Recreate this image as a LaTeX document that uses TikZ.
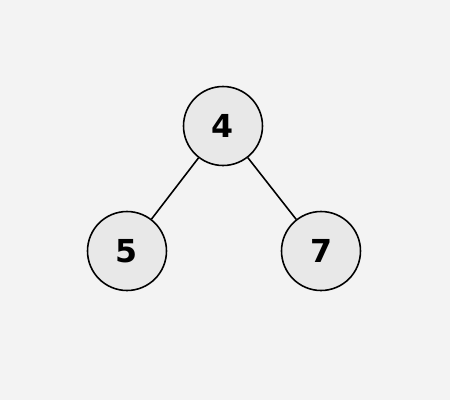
\documentclass[tikz,border=0pt]{standalone}
\usepackage{fontspec}
\setmainfont{DejaVu Sans}
\usetikzlibrary{positioning}
\definecolor{bggray}{HTML}{F3F3F3}
\definecolor{nodegray}{HTML}{E8E8E8}

\begin{document}
\begin{tikzpicture}[
  x=0.02cm, y=-0.02cm,
  every node/.style={circle, draw, line width=0.9pt, fill=nodegray, minimum size=1.58cm, inner sep=0pt, font=\fontsize{18}{20}\selectfont\bfseries},
  edge/.style={line width=0.9pt}
]
% background
\fill[bggray] (0,0) rectangle (450,400);
\useasboundingbox (0,0) rectangle (450,400);

% Nodes
\node (four) at (223,126) {4};
\node (five) at (127,251) {5};
\node (seven) at (321,251) {7};

% Edges
\draw[edge] (four) -- (five);
\draw[edge] (four) -- (seven);

\end{tikzpicture}
\end{document}
